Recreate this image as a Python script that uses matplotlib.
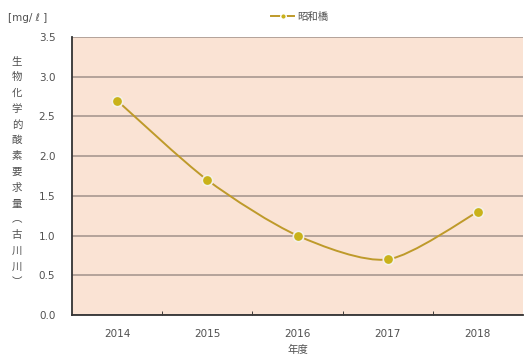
import matplotlib
matplotlib.use("Agg")
import matplotlib.pyplot as plt
from matplotlib.path import Path
from matplotlib.patches import PathPatch
from matplotlib.lines import Line2D

plt.rcParams['font.family'] = ['Noto Sans CJK JP', 'DejaVu Sans']

years = ["2014", "2015", "2016", "2017", "2018"]
bod = [2.7, 1.7, 1.0, 0.7, 1.3]
series_name = "昭和橋"
ylabel_text = "生物化学的酸素要求量︵古川川︶"

line_color = "#BE9A2A"
face = "#FAE3D4"
text_color = "#505050"
num_font = ['DejaVu Sans', 'Noto Sans CJK JP']

fig = plt.figure(figsize=(5.25, 3.6), dpi=100)
ax = fig.add_axes([72 / 525, 1 - 315 / 360, 451 / 525, 278 / 360])
ax.set_facecolor(face)

x = list(range(len(years)))

# smoothed line (Catmull-Rom as cubic Bezier)
verts = [(x[0], bod[0])]
codes = [Path.MOVETO]
t = 0.4 / 3
for i in range(len(x) - 1):
    p0 = (x[max(i - 1, 0)], bod[max(i - 1, 0)])
    p1 = (x[i], bod[i])
    p2 = (x[i + 1], bod[i + 1])
    p3 = (x[min(i + 2, len(x) - 1)], bod[min(i + 2, len(x) - 1)])
    c1 = (p1[0] + (p2[0] - p0[0]) * t, p1[1] + (p2[1] - p0[1]) * t)
    c2 = (p2[0] - (p3[0] - p1[0]) * t, p2[1] - (p3[1] - p1[1]) * t)
    verts += [c1, c2, p2]
    codes += [Path.CURVE4] * 3
ax.add_patch(PathPatch(Path(verts, codes), fill=False, edgecolor=line_color, lw=1.4, zorder=3))
ax.plot(x, bod, 'o', color="#C9B21A", markeredgecolor="#F4F0E8", markeredgewidth=1.2,
        markersize=7.5, zorder=4)

ax.set_xlim(-0.5, len(years) - 0.5)
ax.set_ylim(0, 3.5)
ax.set_yticks([i * 0.5 for i in range(8)])
ax.set_yticklabels([f"{i * 0.5:.1f}" for i in range(8)], fontsize=7.5, color=text_color,
                   family=num_font)
ax.set_xticks(x)
ax.set_xticklabels(years, fontsize=7.5, color=text_color, family=num_font)
ax.set_xticks([i + 0.5 for i in range(len(years) - 1)], minor=True)
ax.tick_params(axis='x', which='major', length=0, pad=10)
ax.tick_params(axis='x', which='minor', length=3, direction='in', color="#222222")
ax.tick_params(axis='y', length=0, pad=12)
ax.yaxis.grid(True, color="#A89890", lw=1.2)
ax.set_axisbelow(True)
for side in ["top", "right", "left", "bottom"]:
    ax.spines[side].set_color("#333333")
    ax.spines[side].set_linewidth(1.3)
ax.spines["top"].set_visible(False)
ax.spines["right"].set_visible(False)

ax.set_xlabel("年度", fontsize=7.5, color=text_color, labelpad=4)
fig.text(8 / 525, 1 - 18 / 360, "[mg/ ℓ ]", fontsize=7.5, color=text_color, va='center',
         family=num_font)
fig.text(17 / 525, 1 - 172 / 360, "\n".join(ylabel_text), fontsize=7.5, color=text_color,
         va='center', ha='center', linespacing=1.72)

handle = Line2D([], [], color=line_color, lw=1.4, marker='o', markersize=4,
                markerfacecolor="#C9B21A", markeredgecolor="white")
fig.legend([handle], [series_name], loc='center', bbox_to_anchor=(300 / 525, 1 - 17 / 360),
           frameon=False, fontsize=7.5, handlelength=2.2, handletextpad=0.3,
           labelcolor=text_color)

fig.savefig("out.png", dpi=100)
